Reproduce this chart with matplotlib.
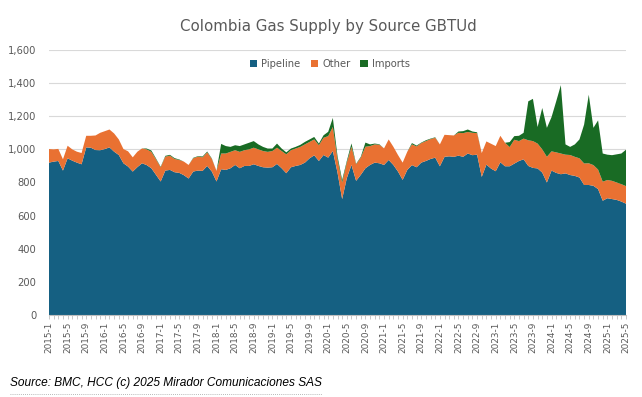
import matplotlib
matplotlib.use("Agg")
import matplotlib.pyplot as plt
from matplotlib.lines import Line2D
from matplotlib.patches import Patch
import numpy as np

# ---- data (GBTUd), monthly 2015-1 .. 2025-5 ----
start_year = 2015
n_months = 125
months = [f"{start_year + i // 12}-{i % 12 + 1}" for i in range(n_months)]

pipeline = [
    920, 926, 930, 872, 946, 932, 920, 910, 1012, 1010, 996, 995,
    1002, 1012, 986, 966, 916, 896, 866, 893, 916, 905, 886, 846,
    806, 872, 876, 862, 858, 844, 824, 866, 872, 870, 900, 866,
    806, 880, 876, 886, 906, 886, 900, 900, 910, 900, 892, 890,
    892, 912, 886, 856, 892, 900, 906, 920, 946, 964, 930, 966,
    950, 990, 860, 700, 826, 906, 810, 846, 886, 906, 920, 916,
    906, 936, 906, 866, 816, 876, 905, 892, 920, 930, 942, 950,
    898, 955, 958, 955, 962, 955, 975, 965, 968, 834, 908, 884,
    868, 922, 898, 898, 914, 930, 940, 900, 888, 885, 860, 800,
    872, 858, 850, 855, 845, 840, 830, 785, 785, 780, 760, 690,
    705, 700, 695, 685, 672,
]
other = [
    82, 74, 73, 68, 76, 68, 66, 68, 70, 72, 88, 105,
    108, 108, 110, 94, 86, 92, 86, 93, 90, 95, 99, 94,
    86, 84, 86, 80, 78, 82, 82, 80, 84, 82, 82, 76,
    64, 95, 99, 99, 89, 99, 95, 100, 100, 100, 98, 95,
    98, 98, 104, 114, 103, 105, 109, 110, 99, 96, 95, 104,
    130, 145, 80, 100, 94, 110, 100, 104, 130, 114, 110, 112,
    100, 124, 110, 100, 104, 110, 125, 126, 118, 120, 120, 120,
    132, 133, 128, 129, 138, 143, 130, 135, 130, 144, 140, 150,
    152, 160, 142, 116, 144, 120, 125, 155, 162, 150, 140, 155,
    116, 124, 125, 113, 121, 115, 116, 130, 131, 125, 118, 115,
    110, 110, 105, 105, 106,
]
imports = [
    0, 0, 0, 0, 0, 0, 0, 0, 0, 0, 0, 0,
    0, 0, 0, 0, 0, 0, 0, 0, 0, 5, 8, 5,
    3, 5, 5, 5, 3, 0, 0, 3, 3, 5, 5, 3,
    0, 58, 45, 30, 30, 35, 35, 40, 40, 30, 25, 20,
    15, 25, 15, 12, 10, 10, 12, 15, 15, 15, 10, 15,
    26, 55, 20, 15, 10, 20, 3, 5, 25, 10, 5, 3,
    0, 0, 0, 0, 0, 0, 8, 5, 3, 5, 3, 3,
    0, 0, 0, 0, 8, 12, 15, 8, 5, 0, 0, 0,
    0, 0, 0, 30, 22, 32, 35, 235, 255, 100, 250, 175,
    207, 308, 413, 62, 49, 75, 114, 235, 414, 225, 297, 170,
    153, 155, 170, 185, 220,
]
series_names = ["Pipeline", "Other", "Imports"]
colors = ["#156082", "#E97132", "#196B24"]
yticks = [0, 200, 400, 600, 800, 1000, 1200, 1400, 1600]

title = "Colombia Gas Supply by Source GBTUd"
source = "Source: BMC, HCC (c) 2025 Mirador Comunicaciones SAS"

# ---- figure ----
W, H = 642, 397
fig = plt.figure(figsize=(W / 100, H / 100), dpi=100)
ax = fig.add_axes([49 / W, 1 - 315 / H, (626 - 49) / W, (315 - 50) / H])

x = np.arange(n_months)
ax.stackplot(x, pipeline, other, imports, colors=colors, linewidth=0)

ax.set_xlim(0, n_months - 1)
ax.set_ylim(0, 1600)
ax.set_yticks(yticks)
ax.set_yticklabels([f"{v:,}" for v in yticks])
ax.grid(axis="y", color="#D9D9D9", linewidth=0.8)
ax.set_axisbelow(True)

ax.set_xticks(x[::4])
ax.set_xticklabels(months[::4], rotation=90)
ax.set_xticks(x, minor=True)

for s in ["top", "right", "left"]:
    ax.spines[s].set_visible(False)
ax.spines["bottom"].set_color("#BFBFBF")
ax.spines["bottom"].set_linewidth(0.8)

ax.tick_params(axis="y", length=0, labelsize=7.2, labelcolor="#595959", pad=9)
ax.tick_params(axis="x", which="both", length=3, color="#BFBFBF", width=0.6,
               labelsize=6.4, labelcolor="#595959", pad=2)

fig.text(0.512, 1 - 27 / H, title, ha="center", va="center",
         fontsize=10.8, color="#595959")

handles = [Patch(facecolor=c, edgecolor="none") for c in colors]
fig.legend(handles, series_names, loc="center", ncol=3,
           bbox_to_anchor=(330 / W, 1 - 64 / H), frameon=False,
           fontsize=7.2, labelcolor="#595959", handlelength=0.75,
           handleheight=0.75, handletextpad=0.4, columnspacing=1.0)

fig.text(10 / W, 1 - 383 / H, source, ha="left", va="center",
         fontsize=8.6, style="italic", color="black",
         family=["Liberation Sans Narrow", "Liberation Sans", "DejaVu Sans"])
fig.add_artist(Line2D([10 / W, 322 / W], [1 - 394 / H, 1 - 394 / H],
                      transform=fig.transFigure, color="#A0A0A0",
                      linestyle=(0, (1, 1.5)), linewidth=0.6))

fig.savefig("out.png", dpi=100)
